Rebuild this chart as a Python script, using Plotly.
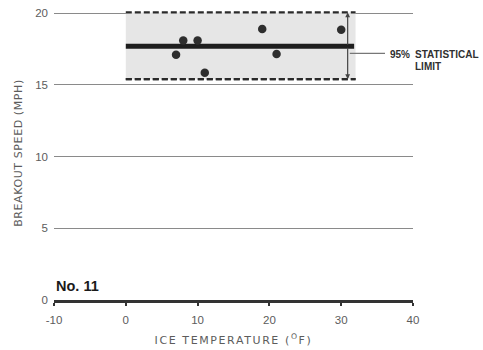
import plotly.graph_objects as go

# Breakout speed measurements vs ice temperature
ice_temp_f = [7, 8, 10, 11, 19, 21, 30]
breakout_mph = [17.1, 18.1, 18.1, 15.85, 18.9, 17.15, 18.85]

# Mean and 95% statistical limits over the tested temperature span
span_f = [0, 32]
mean_mph = 17.7
upper_mph = 20.05
lower_mph = 15.4
limit_arrow_f = 30.9

x_ticks = [-10, 0, 10, 20, 30, 40]
x_tick_text = ["-10", "0", "10", "20", "30", "40"]
y_ticks = [0, 5, 10, 15, 20]

GRAY_TXT = "#5c5c5c"
DARK = "#2a2a2a"
BASE_FONT = "Liberation Sans, Arial, sans-serif"

fig = go.Figure()

limit_line = dict(color=DARK, width=2.2, dash="6px,3px")

# shaded band between the 95% limits
fig.add_trace(go.Scatter(x=span_f, y=[lower_mph] * 2, mode="lines", line=limit_line,
                         hoverinfo="skip", showlegend=False))
fig.add_trace(go.Scatter(x=span_f, y=[upper_mph] * 2, mode="lines", line=limit_line,
                         fill="tonexty", fillcolor="#e6e6e6",
                         hoverinfo="skip", showlegend=False))
# lower dashed edge again, above the fill
fig.add_trace(go.Scatter(x=span_f, y=[lower_mph] * 2, mode="lines", line=limit_line,
                         hoverinfo="skip", showlegend=False))

# mean line
fig.add_trace(go.Scatter(x=[span_f[0], span_f[1] - 0.2], y=[mean_mph] * 2, mode="lines",
                         line=dict(color="#1e1e1e", width=5),
                         hoverinfo="skip", showlegend=False))

# measured points
fig.add_trace(go.Scatter(x=ice_temp_f, y=breakout_mph, mode="markers",
                         marker=dict(color="#2e2e2e", size=8.5),
                         showlegend=False))

# leader line for the limit label
fig.add_trace(go.Scatter(x=[limit_arrow_f + 0.3, 36.1], y=[17.2, 17.2], mode="lines",
                         line=dict(color="#777", width=1.2),
                         hoverinfo="skip", showlegend=False))

annotations = []
# double-headed limit arrow
for tip in (upper_mph, lower_mph):
    annotations.append(dict(x=limit_arrow_f, y=tip, ax=limit_arrow_f, ay=mean_mph,
                            xref="x", yref="y", axref="x", ayref="y",
                            showarrow=True, arrowhead=2, arrowsize=0.8,
                            arrowwidth=1.2, arrowcolor="#444", text=""))

label_font = dict(family=BASE_FONT, size=10, color="#303030")
annotations += [
    dict(x=36.5, y=17.15, xref="x", yref="y", text="<b>95%</b>", showarrow=False,
         xanchor="left", yanchor="middle", font=label_font),
    dict(x=40.0, y=17.15, xref="x", yref="y", text="<b>STATISTICAL</b>", showarrow=False,
         xanchor="left", yanchor="middle", font=label_font),
    dict(x=40.0, y=16.3, xref="x", yref="y", text="<b>LIMIT</b>", showarrow=False,
         xanchor="left", yanchor="middle", font=label_font),
    dict(x=-10, y=0.3, xref="x", yref="y", text="<b>No. 11</b>", showarrow=False,
         xanchor="left", yanchor="bottom",
         font=dict(family=BASE_FONT, size=14.5, color="#1a1a1a")),
]

fig.update_layout(
    width=483, height=350,
    margin=dict(l=54, r=70, t=6, b=50),
    paper_bgcolor="white", plot_bgcolor="white",
    font=dict(family=BASE_FONT, size=11.5, color=GRAY_TXT),
    annotations=annotations,
    xaxis=dict(range=[-10, 40], tickvals=x_ticks, ticktext=x_tick_text,
               showgrid=False, zeroline=False,
               showline=True, linecolor="#333", linewidth=2.5,
               ticks="outside", ticklen=3, tickwidth=1.5, tickcolor="#333",
               ticklabelstandoff=4,
               title=dict(text="ICE TEMPERATURE (<sup>O</sup>F)", standoff=12,
                          font=dict(family="DejaVu Sans, sans-serif", size=11, color=GRAY_TXT))),
    yaxis=dict(range=[0, 20.5], tickvals=y_ticks,
               showgrid=True, gridcolor="#8a8a8a", gridwidth=1.2,
               zeroline=False, showline=False, ticks="",
               ticklabelstandoff=5,
               title=dict(text="BREAKOUT SPEED (MPH)", standoff=10,
                          font=dict(family="DejaVu Sans, sans-serif", size=11, color=GRAY_TXT))),
)

# widen the tracking of the axis titles
tracking_js = """
var gd = document.getElementById('{plot_id}');
function track() {
  var xt = gd.querySelector('.xtitle');
  var yt = gd.querySelector('.ytitle');
  if (xt) xt.style.letterSpacing = '1.6px';
  if (yt) yt.style.letterSpacing = '0.6px';
}
track();
gd.on('plotly_afterplot', track);
"""

fig.write_html("out.html", post_script=tracking_js)
